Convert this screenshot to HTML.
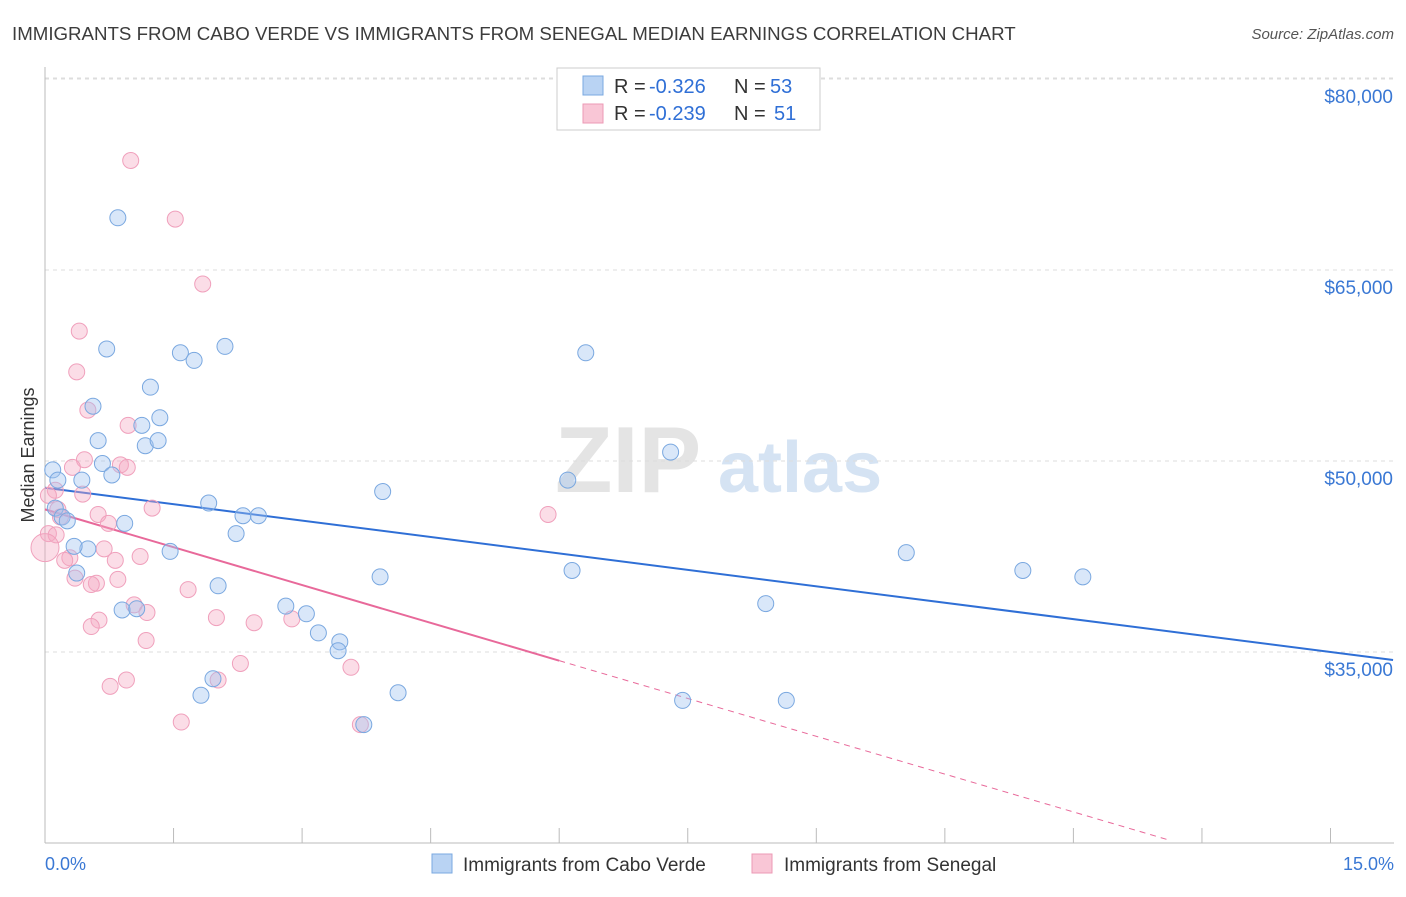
<!DOCTYPE html>
<html><head><meta charset="utf-8"><style>
body{margin:0;background:#fff;font-family:"Liberation Sans",sans-serif;}
svg text{font-family:"Liberation Sans",sans-serif;}
</style></head><body>
<svg id="chart" width="1406" height="892" xmlns="http://www.w3.org/2000/svg">
<text x="12" y="40" font-size="18.7" fill="#3c3c3c">IMMIGRANTS FROM CABO VERDE VS IMMIGRANTS FROM SENEGAL MEDIAN EARNINGS CORRELATION CHART</text>
<text x="1394" y="39" font-size="15" fill="#555" font-style="italic" text-anchor="end">Source: ZipAtlas.com</text>
<text transform="translate(34,455) rotate(-90)" font-size="18" fill="#333" text-anchor="middle">Median Earnings</text>
<g><text x="555" y="492" font-size="94" fill="#e4e4e4" font-family="Liberation Serif" font-weight="bold">ZIP</text><text x="718" y="492" font-size="72" fill="#d5e3f3" font-weight="bold">atlas</text></g>
<g id="grid"></g><g id="axes"></g><g id="trends"></g><g id="pts"></g>
<g>
<rect x="557" y="68" width="263" height="62" fill="#fff" stroke="#ccc"/>
<rect x="583" y="76" width="20" height="19" fill="#b9d3f3" stroke="#7aa8e0"/>
<rect x="583" y="104" width="20" height="19" fill="#f9c6d6" stroke="#ec9ab5"/>
<text x="614" y="93" font-size="20" fill="#333">R =</text><text x="649" y="93" font-size="20" fill="#2f6fd6">-0.326</text>
<text x="734" y="93" font-size="20" fill="#333">N =</text><text x="770" y="93" font-size="20" fill="#2f6fd6">53</text>
<text x="614" y="120" font-size="20" fill="#333">R =</text><text x="649" y="120" font-size="20" fill="#2f6fd6">-0.239</text>
<text x="734" y="120" font-size="20" fill="#333">N =</text><text x="774" y="120" font-size="20" fill="#2f6fd6">51</text>
</g>
<g>
<rect x="432" y="854" width="20" height="19" fill="#b9d3f3" stroke="#7aa8e0"/>
<text x="463" y="871" font-size="19" fill="#333">Immigrants from Cabo Verde</text>
<rect x="752" y="854" width="20" height="19" fill="#f9c6d6" stroke="#ec9ab5"/>
<text x="784" y="871" font-size="19" fill="#333">Immigrants from Senegal</text>
</g>
<text x="45" y="870" font-size="18" fill="#3a78d4">0.0%</text>
<text x="1394" y="870" font-size="18" fill="#3a78d4" text-anchor="end">15.0%</text>
</svg>
<script>
const yTicks=[35000,50000,65000,80000];
const yTickLabels=["$35,000","$50,000","$65,000","$80,000"];
const xTicks=[0,1.5,3,4.5,6,7.5,9,10.5,12,13.5,15];
const blueX=[0.85,0.72,1.58,1.74,2.10,1.23,0.56,1.34,1.13,0.62,1.17,1.32,0.09,0.67,0.78,0.43,0.15,0.12,0.20,0.26,0.93,1.91,2.31,2.49,2.23,0.50,0.34,1.46,0.37,2.02,3.94,3.91,6.31,6.10,7.30,6.15,10.05,11.41,12.11,8.41,0.90,1.07,2.81,3.05,3.19,3.44,3.42,1.96,1.82,4.12,3.72,7.44,8.65];
const blueY=[69.1,58.8,58.5,57.9,59.0,55.8,54.3,53.4,52.8,51.6,51.2,51.6,49.3,49.8,48.9,48.5,48.5,46.3,45.6,45.3,45.1,46.7,45.7,45.7,44.3,43.1,43.3,42.9,41.2,40.2,47.6,40.9,58.5,48.5,50.7,41.4,42.8,41.4,40.9,38.8,38.3,38.4,38.6,38.0,36.5,35.8,35.1,32.9,31.6,31.8,29.3,31.2,31.2];
const pinkX=[1.00,1.52,1.84,0.40,0.37,0.50,0.97,0.46,0.32,0.88,0.96,0.12,0.44,0.04,0.15,0.18,0.62,1.25,5.87,0.74,0.69,0.04,0.13,0.29,0.23,1.11,0.82,0.35,0.60,0.54,0.85,1.67,1.04,1.19,0.63,0.54,2.00,2.44,2.88,1.18,2.28,3.57,0.95,0.76,2.02,1.59,3.68];
const pinkY=[73.6,69.0,63.9,60.2,57.0,54.0,52.8,50.1,49.5,49.7,49.5,47.7,47.4,47.3,46.2,45.6,45.8,46.3,45.8,45.1,43.1,44.3,44.2,42.4,42.2,42.5,42.2,40.8,40.4,40.3,40.7,39.9,38.7,38.1,37.5,37.0,37.7,37.3,37.6,35.9,34.1,33.8,32.8,32.3,32.8,29.5,29.3];
const blueTrend=[47.9,35.0];
const pinkTrend=[46.2,-1.98];
const NS="http://www.w3.org/2000/svg";
const xs=p=>45+p*85.7;
const ys=v=>461-(v-50000)*191/15000;
function mk(parent,tag,attrs){const e=document.createElementNS(NS,tag);for(const k in attrs)e.setAttribute(k,attrs[k]);document.getElementById(parent).appendChild(e);return e;}
yTicks.forEach((t,i)=>{
 const l=mk('grid','line',{x1:45,x2:1394,y1:ys(t),y2:ys(t),stroke:'#ddd','stroke-dasharray':'4,4'});
 
 
 const tx=mk('grid','text',{x:1393,y:ys(t)+24,'font-size':19,fill:'#3a78d4','text-anchor':'end'});
 tx.textContent=yTickLabels[i];
 
 
});
const topLine=mk('grid','line',{x1:45,x2:1394,y1:78,y2:78,stroke:'#ddd','stroke-dasharray':'4,4'});


const ya=mk('axes','line',{x1:45,x2:45,y1:67,y2:843,stroke:'#bbb'});


const xa=mk('axes','line',{x1:45,x2:1394,y1:843,y2:843,stroke:'#bbb'});


xTicks.forEach(t=>{
 const l=mk('axes','line',{x1:xs(t),x2:xs(t),y1:828,y2:843,stroke:'#bbb'});
 
 
});
const bt=mk('trends','line',{x1:xs(0),y1:ys(blueTrend[0]*1000),x2:xs(15.73),y2:ys((blueTrend[0]+(blueTrend[1]-blueTrend[0])*15.73/15)*1000),stroke:'#2f6fd6','stroke-width':2});


const pv=x=>(pinkTrend[0]+pinkTrend[1]*x)*1000;
const pt=mk('trends','line',{x1:xs(0),y1:ys(pv(0)),x2:xs(6),y2:ys(pv(6)),stroke:'#e8699a','stroke-width':2});


const pd=mk('trends','line',{x1:xs(6),y1:ys(pv(6)),x2:xs(13.13),y2:ys(pv(13.13)),stroke:'#e8699a','stroke-width':1,'stroke-dasharray':'6,5'});


pinkX.forEach((x,i)=>{
 const c=mk('pts','circle',{cx:xs(x),cy:ys(pinkY[i]*1000),r:8,fill:'rgba(246,170,196,0.4)',stroke:'#f0a0bc','stroke-width':1});
 
 
});
const big=mk('pts','circle',{cx:xs(0),cy:ys(43200),r:14,fill:'rgba(246,170,196,0.4)',stroke:'#f0a0bc'});


blueX.forEach((x,i)=>{
 const c=mk('pts','circle',{cx:xs(x),cy:ys(blueY[i]*1000),r:8,fill:'rgba(160,196,240,0.4)',stroke:'#7aa8e0','stroke-width':1});
 
 
});
</script>
</body></html>
